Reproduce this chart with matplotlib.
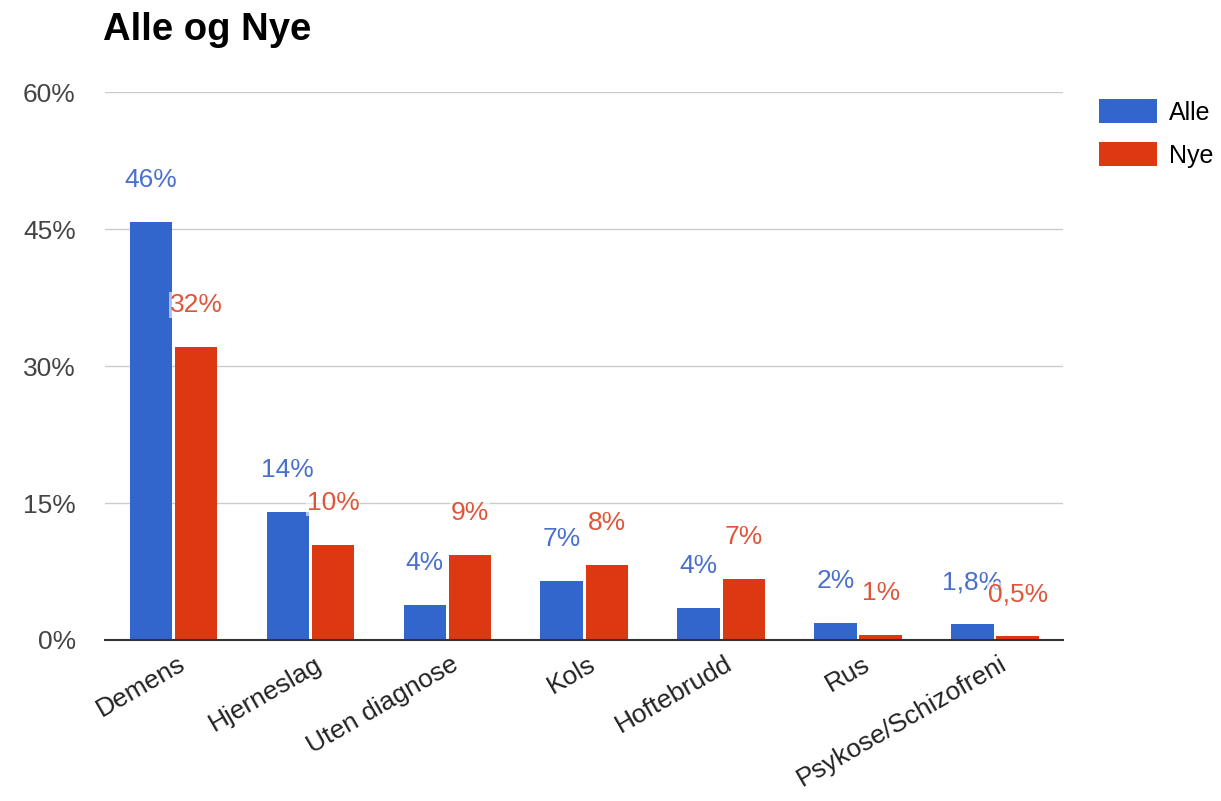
import numpy as np
import matplotlib
matplotlib.use('Agg')
import matplotlib.pyplot as plt
from matplotlib.patches import Patch

plt.rcParams['font.family'] = ['Liberation Sans', 'DejaVu Sans']

# ---------------------------------------------------------------------------
# Data
# ---------------------------------------------------------------------------
categories = ["Demens", "Hjerneslag", "Uten diagnose", "Kols",
              "Hoftebrudd", "Rus", "Psykose/Schizofreni"]
alle = [45.8, 14.0, 3.8, 6.5, 3.5, 1.9, 1.7]
nye = [32.1, 10.4, 9.3, 8.2, 6.7, 0.6, 0.4]
alle_labels = ["46%", "14%", "4%", "7%", "4%", "2%", "1,8%"]
nye_labels = ["32%", "10%", "9%", "8%", "7%", "1%", "0,5%"]
yticks = [0, 15, 30, 45, 60]
ytick_labels = ["0%", "15%", "30%", "45%", "60%"]

BLUE = "#3366cc"
RED = "#dc3912"
BLUE_TXT = "#4a6fcc"
RED_TXT = "#e0553a"

fig = plt.figure(figsize=(12.21, 8.01), dpi=100)
ax = fig.add_axes([0.086, 0.201, 0.785, 0.684])

x = np.arange(len(categories))
w = 0.31
off = 0.165
ax.bar(x - off, alle, width=w, color=BLUE, zorder=3)
ax.bar(x + off, nye, width=w, color=RED, zorder=3)

# value labels above bars (Nye drawn on top with a light halo, as in the original)
for xi, v, lab in zip(x, alle, alle_labels):
    ax.text(xi - off, v + 4.6, lab, color=BLUE_TXT, fontsize=19,
            ha="center", va="center", zorder=4)
for xi, v, lab in zip(x, nye, nye_labels):
    ax.text(xi + off, v + 4.6, lab, color=RED_TXT, fontsize=19,
            ha="center", va="center", zorder=5,
            bbox=dict(facecolor="white", edgecolor="none", pad=0.5, alpha=0.6))

ax.set_xlim(-0.5, len(categories) - 0.5)
ax.set_ylim(0, 60)
ax.set_yticks(yticks)
ax.set_yticklabels(ytick_labels, fontsize=19, color="#444444")
# label anchors sit a little right of the group centre
ax.set_xticks(x + 0.07)
ax.set_xticklabels(categories, rotation=30, ha="right", va="center",
                   rotation_mode="anchor", fontsize=19, color="#222222")
ax.tick_params(axis="both", length=0)
ax.tick_params(axis="y", pad=21)
ax.tick_params(axis="x", pad=16)

ax.grid(axis="y", color="#cccccc", linewidth=1, zorder=0)
for s in ["top", "right", "left"]:
    ax.spines[s].set_visible(False)
ax.spines["bottom"].set_color("#333333")
ax.spines["bottom"].set_linewidth(1.5)
ax.spines["bottom"].set_zorder(5)

fig.text(0.084, 0.962, "Alle og Nye", fontsize=27.5, fontweight="bold",
         ha="left", va="center", color="#000000")

handles = [Patch(facecolor=BLUE), Patch(facecolor=RED)]
fig.legend(handles, ["Alle", "Nye"], loc="upper left",
           bbox_to_anchor=(0.888, 0.895), frameon=False, fontsize=18,
           handlelength=2.3, handleheight=1.1, handletextpad=0.5,
           labelspacing=0.7, borderpad=0.1)

plt.savefig("out.png", dpi=100)
plt.close()
